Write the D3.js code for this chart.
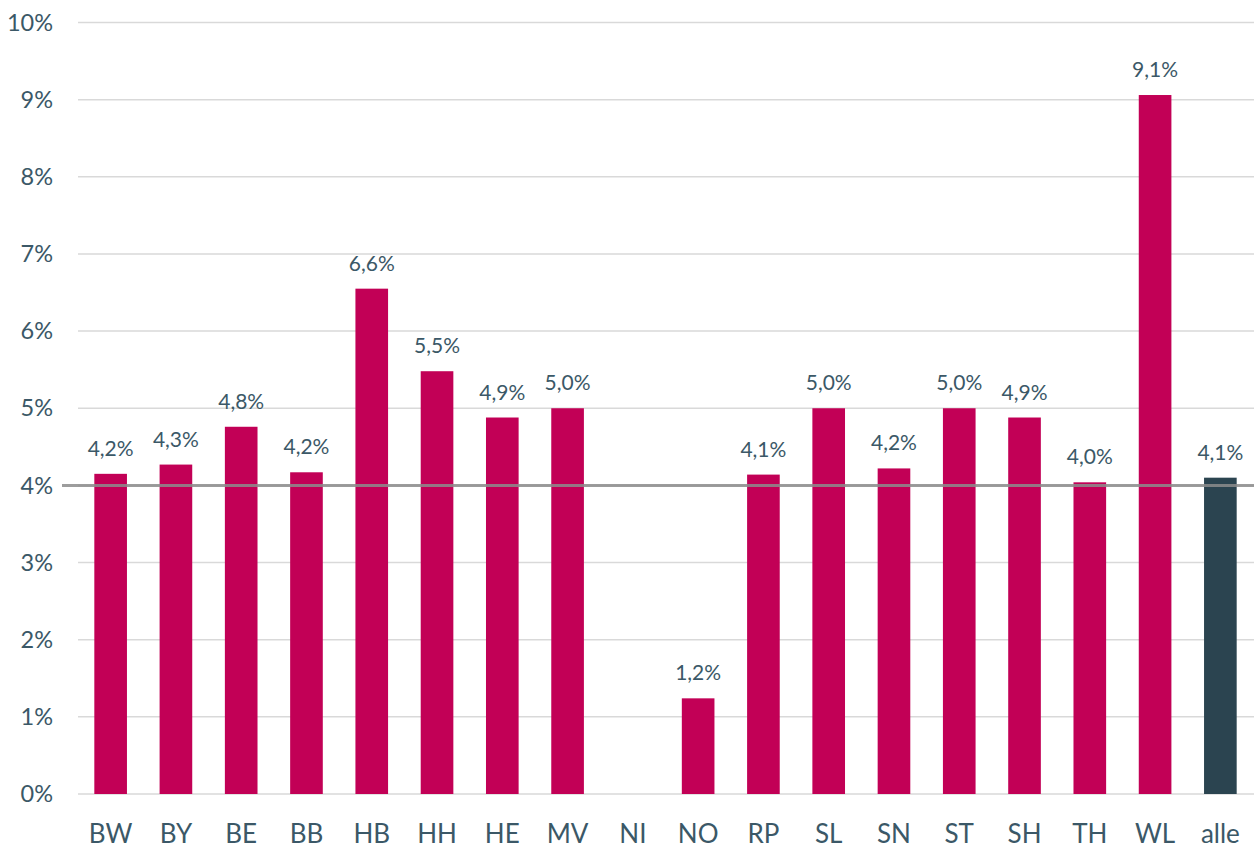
<!DOCTYPE html>
<html>
<head>
<meta charset="utf-8">
<script src="https://cdn.jsdelivr.net/npm/d3@7"></script>
<style>
  body { margin: 0; background: #fff; }
  svg { display: block; font-family: Lato, "Open Sans", sans-serif; }
</style>
</head>
<body>
<div id="chart_div"></div>
<script>
const categories = ["BW", "BY", "BE", "BB", "HB", "HH", "HE", "MV", "NI", "NO", "RP", "SL", "SN", "ST", "SH", "TH", "WL", "alle"];
const values = [4.15, 4.27, 4.76, 4.17, 6.55, 5.48, 4.88, 5.0, null, 1.24, 4.14, 5.0, 4.22, 5.0, 4.88, 4.04, 9.06, 4.1];
const labels = ["4,2%", "4,3%", "4,8%", "4,2%", "6,6%", "5,5%", "4,9%", "5,0%", "", "1,2%", "4,1%", "5,0%", "4,2%", "5,0%", "4,9%", "4,0%", "9,1%", "4,1%"];
const yTicks = [0, 1, 2, 3, 4, 5, 6, 7, 8, 9, 10];
const referenceValue = 4.0;

const width = 1254, height = 849;
const margin = {top: 22.5, right: 1, bottom: 55, left: 78};
const textColor = "#3b5867";

const svg = d3.select("#chart_div")
    .append("svg")
    .attr("width", width)
    .attr("height", height);

const xScale = d3.scaleBand()
    .domain(categories)
    .range([margin.left, width - margin.right])
    .paddingInner(0.5)
    .paddingOuter(0.25);

const yScale = d3.scaleLinear()
    .domain([0, 10])
    .range([height - margin.bottom, margin.top]);

// gridlines
svg.append("g")
    .selectAll("line")
    .data(yTicks)
    .join("line")
    .attr("x1", margin.left)
    .attr("x2", width)
    .attr("y1", d => yScale(d))
    .attr("y2", d => yScale(d))
    .attr("stroke", "#d9d9d9")
    .attr("stroke-width", 1.5);

// y tick labels
svg.append("g")
    .selectAll("text")
    .data(yTicks)
    .join("text")
    .attr("x", 53)
    .attr("y", d => yScale(d))
    .attr("dy", "0.35em")
    .attr("text-anchor", "end")
    .attr("fill", textColor)
    .attr("font-size", 23.5)
    .text(d => d + "%");

// bars
const barData = categories.map((c, i) => ({cat: c, value: values[i], label: labels[i]}))
    .filter(d => d.value != null);

svg.append("g")
    .selectAll("rect")
    .data(barData)
    .join("rect")
    .attr("x", d => xScale(d.cat))
    .attr("width", xScale.bandwidth())
    .attr("y", d => yScale(d.value))
    .attr("height", d => yScale(0) - yScale(d.value))
    .attr("fill", d => d.cat === "alle" ? "#2b4450" : "#c20056");

// value labels
svg.append("g")
    .selectAll("text")
    .data(barData)
    .join("text")
    .attr("x", d => xScale(d.cat) + xScale.bandwidth() / 2)
    .attr("y", d => yScale(d.value) - 18)
    .attr("text-anchor", "middle")
    .attr("fill", textColor)
    .attr("font-size", 21)
    .text(d => d.label);

// reference line
svg.append("line")
    .attr("x1", margin.left - 16)
    .attr("x2", width)
    .attr("y1", yScale(referenceValue))
    .attr("y2", yScale(referenceValue))
    .attr("stroke", "#8c8c8c")
    .attr("stroke-opacity", 0.85)
    .attr("stroke-width", 3);

// x axis labels
svg.append("g")
    .selectAll("text")
    .data(categories)
    .join("text")
    .attr("x", d => xScale(d) + xScale.bandwidth() / 2)
    .attr("y", 843)
    .attr("text-anchor", "middle")
    .attr("fill", textColor)
    .attr("font-size", 26)
    .text(d => d);
</script>
</body>
</html>
